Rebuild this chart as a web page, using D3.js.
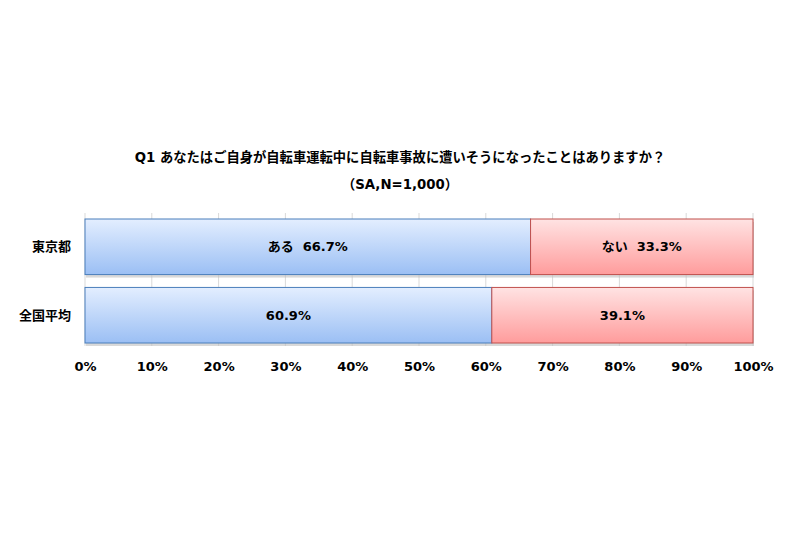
<!DOCTYPE html>
<html>
<head>
<meta charset="utf-8">
<script src="https://cdn.jsdelivr.net/npm/d3@7"></script>
<style>
  body { margin: 0; background: #fff; }
  text { font-family: Verdana, "DejaVu Sans", "Noto Sans CJK JP", sans-serif; font-weight: bold; fill: #000; }
</style>
</head>
<body>
<div id="chart"></div>
<script>
const regions = ["東京都", "全国平均"];
const yesValues = [66.7, 60.9];
const noValues = [33.3, 39.1];
const yesLabels = ["ある  66.7%", "60.9%"];
const noLabels = ["ない  33.3%", "39.1%"];
const tickValues = [0, 10, 20, 30, 40, 50, 60, 70, 80, 90, 100];
const titleLines = ["Q1 あなたはご自身が自転車運転中に自転車事故に遭いそうになったことはありますか？", "（SA,N=1,000）"];

const width = 800, height = 533;
const plot = {left: 85, right: 753, top: 213, bottom: 346};

const svg = d3.select("#chart").append("svg")
    .attr("width", width)
    .attr("height", height);

const defs = svg.append("defs");
function addGradient(id, top, bottom) {
    const g = defs.append("linearGradient")
        .attr("id", id)
        .attr("x1", 0).attr("y1", 0).attr("x2", 0).attr("y2", 1);
    g.append("stop").attr("offset", "0%").attr("stop-color", top);
    g.append("stop").attr("offset", "100%").attr("stop-color", bottom);
}
addGradient("blueGrad", "#e3eeff", "#9bbff4");
addGradient("redGrad", "#ffe3e3", "#ff9c9c");

const x = d3.scaleLinear()
    .domain([0, 100])
    .range([plot.left, plot.right]);

// bars from 219 to 343, gap of 13 between them
const y = d3.scaleBand()
    .domain(regions)
    .range([219, 343])
    .paddingInner(0.188)
    .paddingOuter(0);

// title
svg.selectAll("title-line")
    .data(titleLines)
    .enter()
    .append("text")
    .attr("x", 400)
    .attr("y", function (d, i) { return 162 + i * 27; })
    .attr("text-anchor", "middle")
    .style("font-size", "13.3px")
    .text(function (d) { return d; });

// gridlines
svg.append("g")
    .selectAll("line")
    .data(tickValues)
    .enter()
    .append("line")
    .attr("x1", function (d) { return x(d); })
    .attr("x2", function (d) { return x(d); })
    .attr("y1", plot.top)
    .attr("y2", plot.bottom)
    .attr("stroke", "#d9d9d9")
    .attr("stroke-width", 1);

// x axis labels
const xAxis = svg.append("g")
    .attr("transform", "translate(0," + plot.bottom + ")")
    .call(d3.axisBottom(x).tickValues(tickValues).tickSize(0).tickPadding(16)
        .tickFormat(function (d) { return d + "%"; }));
xAxis.select(".domain").remove();
xAxis.selectAll("text").style("font-size", "13px").style("font-family", null);

// category labels
svg.selectAll("cat-label")
    .data(regions)
    .enter()
    .append("text")
    .attr("x", 71)
    .attr("y", function (d) { return y(d) + y.bandwidth() / 2; })
    .attr("text-anchor", "end")
    .attr("dy", "0.35em")
    .style("font-size", "13px")
    .text(function (d) { return d; });

const rows = regions.map(function (r, i) {
    return {region: r, yes: yesValues[i], no: noValues[i], yesLabel: yesLabels[i], noLabel: noLabels[i]};
});

// shadows
svg.append("g")
    .selectAll("rect")
    .data(rows)
    .enter()
    .append("rect")
    .attr("x", x(0) + 1)
    .attr("y", function (d) { return y(d.region) + 3; })
    .attr("width", x(100) - x(0))
    .attr("height", y.bandwidth())
    .attr("fill", "#bfbfbf")
    .attr("opacity", 0.6);

// yes bars
svg.append("g")
    .selectAll("rect")
    .data(rows)
    .enter()
    .append("rect")
    .attr("x", x(0))
    .attr("y", function (d) { return y(d.region); })
    .attr("width", function (d) { return x(d.yes) - x(0); })
    .attr("height", y.bandwidth())
    .attr("fill", "url(#blueGrad)")
    .attr("stroke", "#4a7ebb")
    .attr("stroke-width", 1);

// no bars
svg.append("g")
    .selectAll("rect")
    .data(rows)
    .enter()
    .append("rect")
    .attr("x", function (d) { return x(d.yes); })
    .attr("y", function (d) { return y(d.region); })
    .attr("width", function (d) { return x(d.yes + d.no) - x(d.yes); })
    .attr("height", y.bandwidth())
    .attr("fill", "url(#redGrad)")
    .attr("stroke", "#c0504d")
    .attr("stroke-width", 1);

// value labels
svg.selectAll("yes-label")
    .data(rows)
    .enter()
    .append("text")
    .attr("x", function (d) { return x(d.yes / 2); })
    .attr("y", function (d) { return y(d.region) + y.bandwidth() / 2; })
    .attr("dy", "0.35em")
    .attr("text-anchor", "middle")
    .style("font-size", "13px")
    .style("white-space", "pre")
    .text(function (d) { return d.yesLabel; });

svg.selectAll("no-label")
    .data(rows)
    .enter()
    .append("text")
    .attr("x", function (d) { return x(d.yes + d.no / 2); })
    .attr("y", function (d) { return y(d.region) + y.bandwidth() / 2; })
    .attr("dy", "0.35em")
    .attr("text-anchor", "middle")
    .style("font-size", "13px")
    .style("white-space", "pre")
    .text(function (d) { return d.noLabel; });
</script>
</body>
</html>
